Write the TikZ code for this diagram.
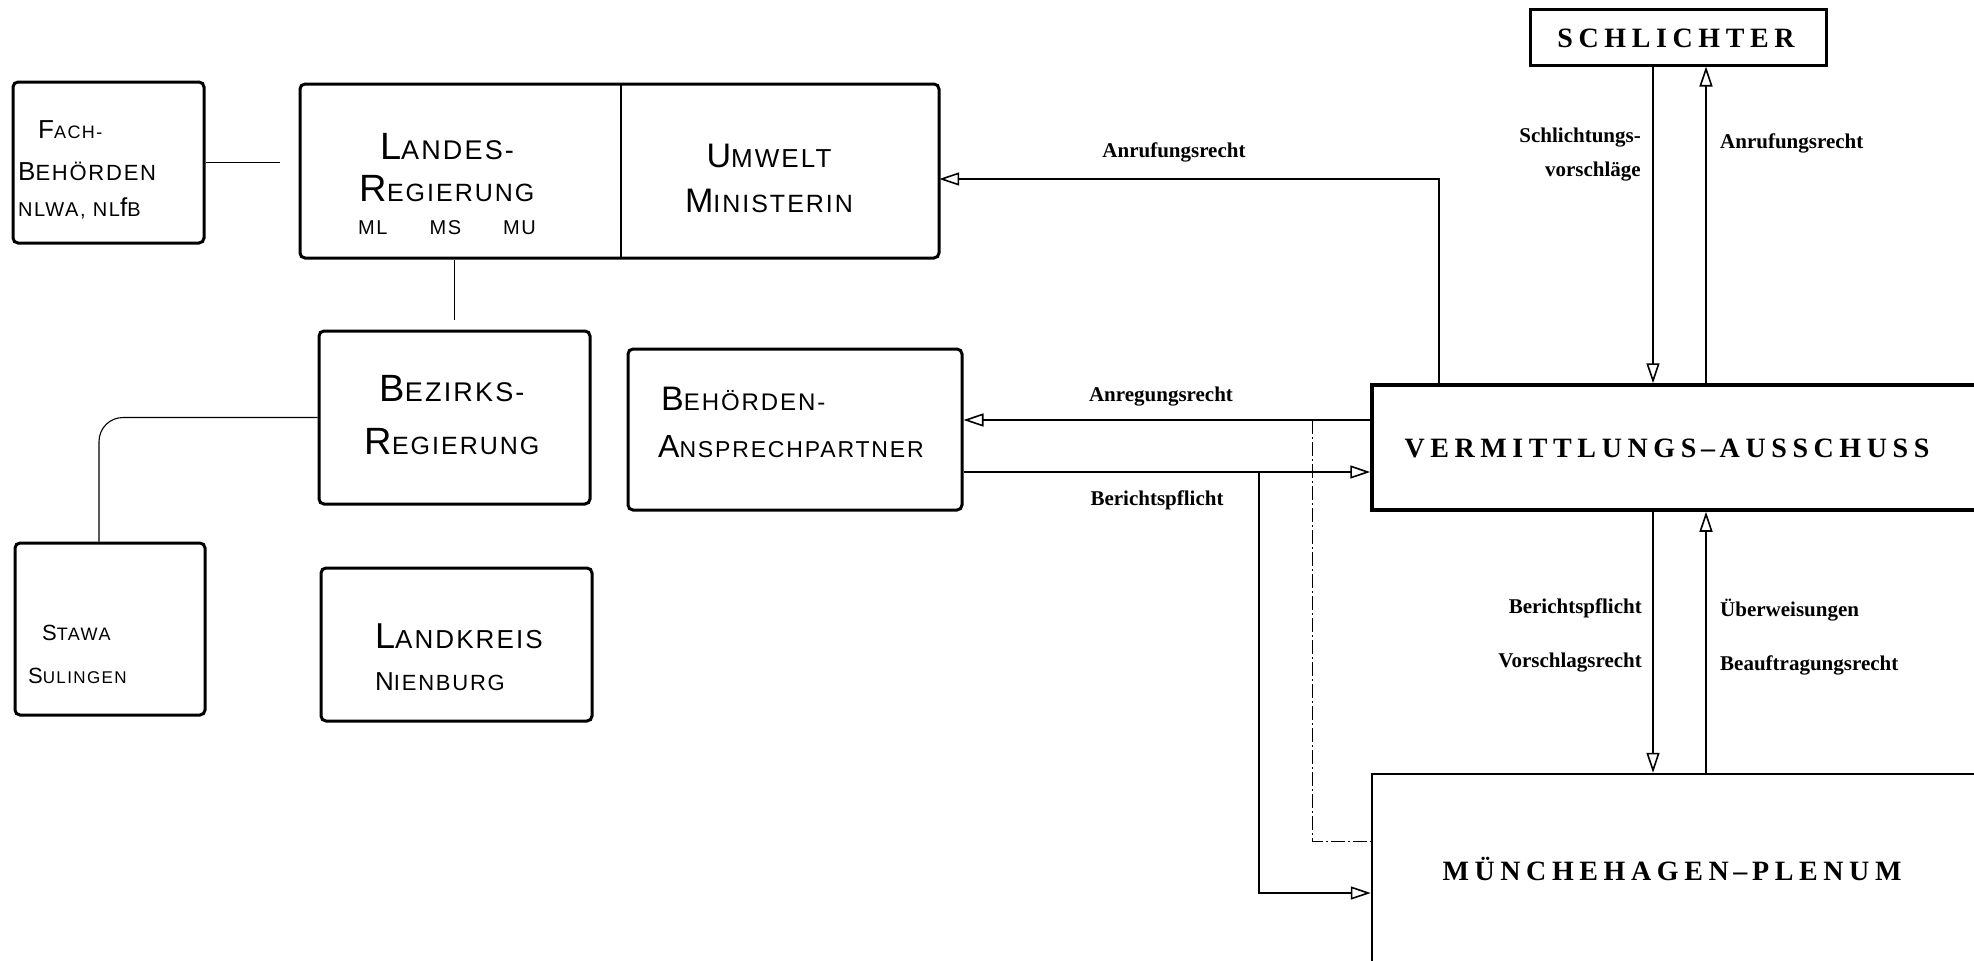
\documentclass[tikz,border=0pt]{standalone}
\usepackage{fontspec}
\setmainfont{Liberation Serif}
\newfontfamily\handfont[LetterSpace=8]{Liberation Sans}
\newfontfamily\printfont[LetterSpace=20]{Liberation Serif}
\newfontfamily\labfont{Liberation Serif}
\usetikzlibrary{arrows.meta}
\newcommand\hcap[4]{{\fontsize{#3}{34}\selectfont #1}{\fontsize{#4}{34}\selectfont #2}}
\begin{document}
\begin{tikzpicture}[x=1pt,y=-1pt,
  hbox/.style={draw, line width=3pt, rounded corners=5pt, inner sep=0pt},
  pbox/.style={draw, line width=3pt, inner sep=0pt},
  htext/.style={inner sep=0pt, align=center},
  lab/.style={inner sep=0pt, font=\labfont\bfseries\fontsize{21}{21}\selectfont},
  ptext/.style={inner sep=0pt, font=\printfont\bfseries\fontsize{28}{28}\selectfont},
  conn/.style={line width=1.1pt},
  oarr/.style={conn, -{Triangle[open, length=20pt, width=13pt, line width=1.6pt]}},
  dconn/.style={line width=1pt, dash pattern=on 14pt off 3pt on 2pt off 3pt}]
\useasboundingbox (0,0) rectangle (1974,961);
\clip (0,0) rectangle (1974,961);
\fill[white] (0,0) rectangle (1974,961);

% handwritten boxes
\node[hbox, minimum width=191pt, minimum height=161pt] (fach) at (108.5,162.5) {};
\node[hbox, minimum width=639pt, minimum height=174pt] (landes) at (619.5,171) {};
\node[inner sep=0pt, minimum width=318pt, minimum height=174pt] (umwelt) at (780,171) {};
\draw[line width=2pt] (umwelt.north west) -- (umwelt.south west);
\node[hbox, minimum width=271pt, minimum height=173pt] (bezirk) at (454.5,417.5) {};
\node[hbox, minimum width=334pt, minimum height=161pt] (beh) at (795,429.5) {};
\node[hbox, minimum width=190pt, minimum height=172pt] (stawa) at (110,629) {};
\node[hbox, minimum width=271pt, minimum height=153pt] (kreis) at (456.5,644.5) {};

% handwritten texts
\node[htext, anchor=west, align=left, font=\handfont\fontsize{20}{40}\selectfont] (fachT) at (18,170)
  {\hspace*{20pt}\hcap{F}{ACH-}{26}{18}\\[2pt]\hcap{B}{EHÖRDEN}{26}{22}\\[-4pt]{\fontsize{20}{34}\selectfont NLWA, NL{\fontsize{26}{34}\selectfont f}B}};
\node[htext, font=\handfont\fontsize{20}{34}\selectfont] (landesT) at (447,184)
  {\hcap{L}{ANDES-}{38}{27}\\[8pt]\hcap{R}{EGIERUNG}{38}{25}\\[-1pt]{\fontsize{20}{34}\selectfont ML\hspace{42pt}MS\hspace{42pt}MU}};
\node[htext, font=\handfont\fontsize{20}{45}\selectfont] (umweltT) at (769,178)
  {\hcap{U}{MWELT}{34}{26}\\\hcap{M}{INISTERIN}{34}{25}};
\node[htext, font=\handfont\fontsize{20}{53}\selectfont] (bezirkT) at (452,415)
  {\hcap{B}{EZIRKS-}{38}{27}\\\hcap{R}{EGIERUNG}{38}{25}};
\node[htext, anchor=west, align=left, font=\handfont\fontsize{20}{47}\selectfont] (behT) at (658,422)
  {\hspace*{3pt}\hcap{B}{EHÖRDEN-}{34}{24}\\\hcap{A}{NSPRECHPARTNER}{32}{23}};
\node[htext, anchor=west, align=left, font=\handfont\fontsize{20}{43}\selectfont] (stawaT) at (28,654)
  {\hspace*{14pt}\hcap{S}{TAWA}{22}{18}\\\hcap{S}{ULINGEN}{22}{17}};
\node[htext, anchor=west, align=left, font=\handfont\fontsize{20}{42}\selectfont] (kreisT) at (375,657)
  {\hcap{L}{ANDKREIS}{36}{26}\\\hcap{N}{IENBURG}{26}{22}};

% printed boxes
\node[pbox, minimum width=296pt, minimum height=56pt] (schl) at (1678,37) {};
\node[ptext] (schlT) at (1676,38) {SCHLICHTER};
\node[pbox, line width=3.5pt, minimum width=620pt, minimum height=125pt] (verm) at (1682,447.5) {};
\node[ptext] (vermT) at (1667,448) {VERMITTLUNGS\,–\,AUSSCHUSS};
\node[pbox, line width=2.5pt, minimum width=620pt, minimum height=203pt] (plenum) at (1682,875.5) {};
\node[ptext] (plenumT) at (1672,869) {MÜNCHEHAGEN\,–\,PLENUM};

% plain connectors
\draw[conn] (fach.east) -- ([xshift=-19pt]fach.east -| landes.west);
\draw[conn] (landes.south -| bezirk.north) -- ([yshift=10pt]bezirk.north);
\draw[conn, rounded corners=24pt] (bezirk.west) -- ([xshift=-11pt]bezirk.west -| stawa.north) -- ([xshift=-11pt]stawa.north);

% arrows
\coordinate (anr) at (1439,179);
\draw[oarr] (anr |- verm.north) -- (anr) -- (anr -| umwelt.east);
\coordinate (anreg) at (1312,420);
\draw[oarr] (anreg -| verm.west) -- (anreg -| beh.east);
\coordinate (ber) at (1259,472);
\draw[oarr] (ber -| beh.east) -- (ber -| verm.west);
\coordinate (berp) at (1259,893);
\draw[oarr] (ber) -- (berp) -- (berp -| plenum.west);
\coordinate (dp) at (1312,841);
\draw[dconn] (anreg) -- (dp) -- (dp -| plenum.west);

\coordinate (xa) at (1653,0);
\coordinate (xb) at (1706,0);
\draw[oarr] (xa |- schl.south) -- (xa |- verm.north);
\draw[oarr] (xb |- verm.north) -- (xb |- schl.south);
\draw[oarr] (xa |- verm.south) -- (xa |- plenum.north);
\draw[oarr] (xb |- plenum.north) -- (xb |- verm.south);

% labels
\node[lab, anchor=east] (l1) at (1641,138) {Schlichtungs-};
\node[lab, anchor=east] (l2) at (1641,172) {vorschläge};
\node[lab, anchor=west] (l3) at (1720,143) {Anrufungsrecht};
\node[lab] (l4) at (1174,152) {Anrufungsrecht};
\node[lab] (l5) at (1161,397) {Anregungsrecht};
\node[lab] (l6) at (1157,500) {Berichtspflicht};
\node[lab, anchor=east] (l7) at (1642,608) {Berichtspflicht};
\node[lab, anchor=east] (l8) at (1642,663) {Vorschlagsrecht};
\node[lab, anchor=west] (l9) at (1720,610) {Überweisungen};
\node[lab, anchor=west] (l10) at (1720,665) {Beauftragungsrecht};
\end{tikzpicture}
\end{document}
